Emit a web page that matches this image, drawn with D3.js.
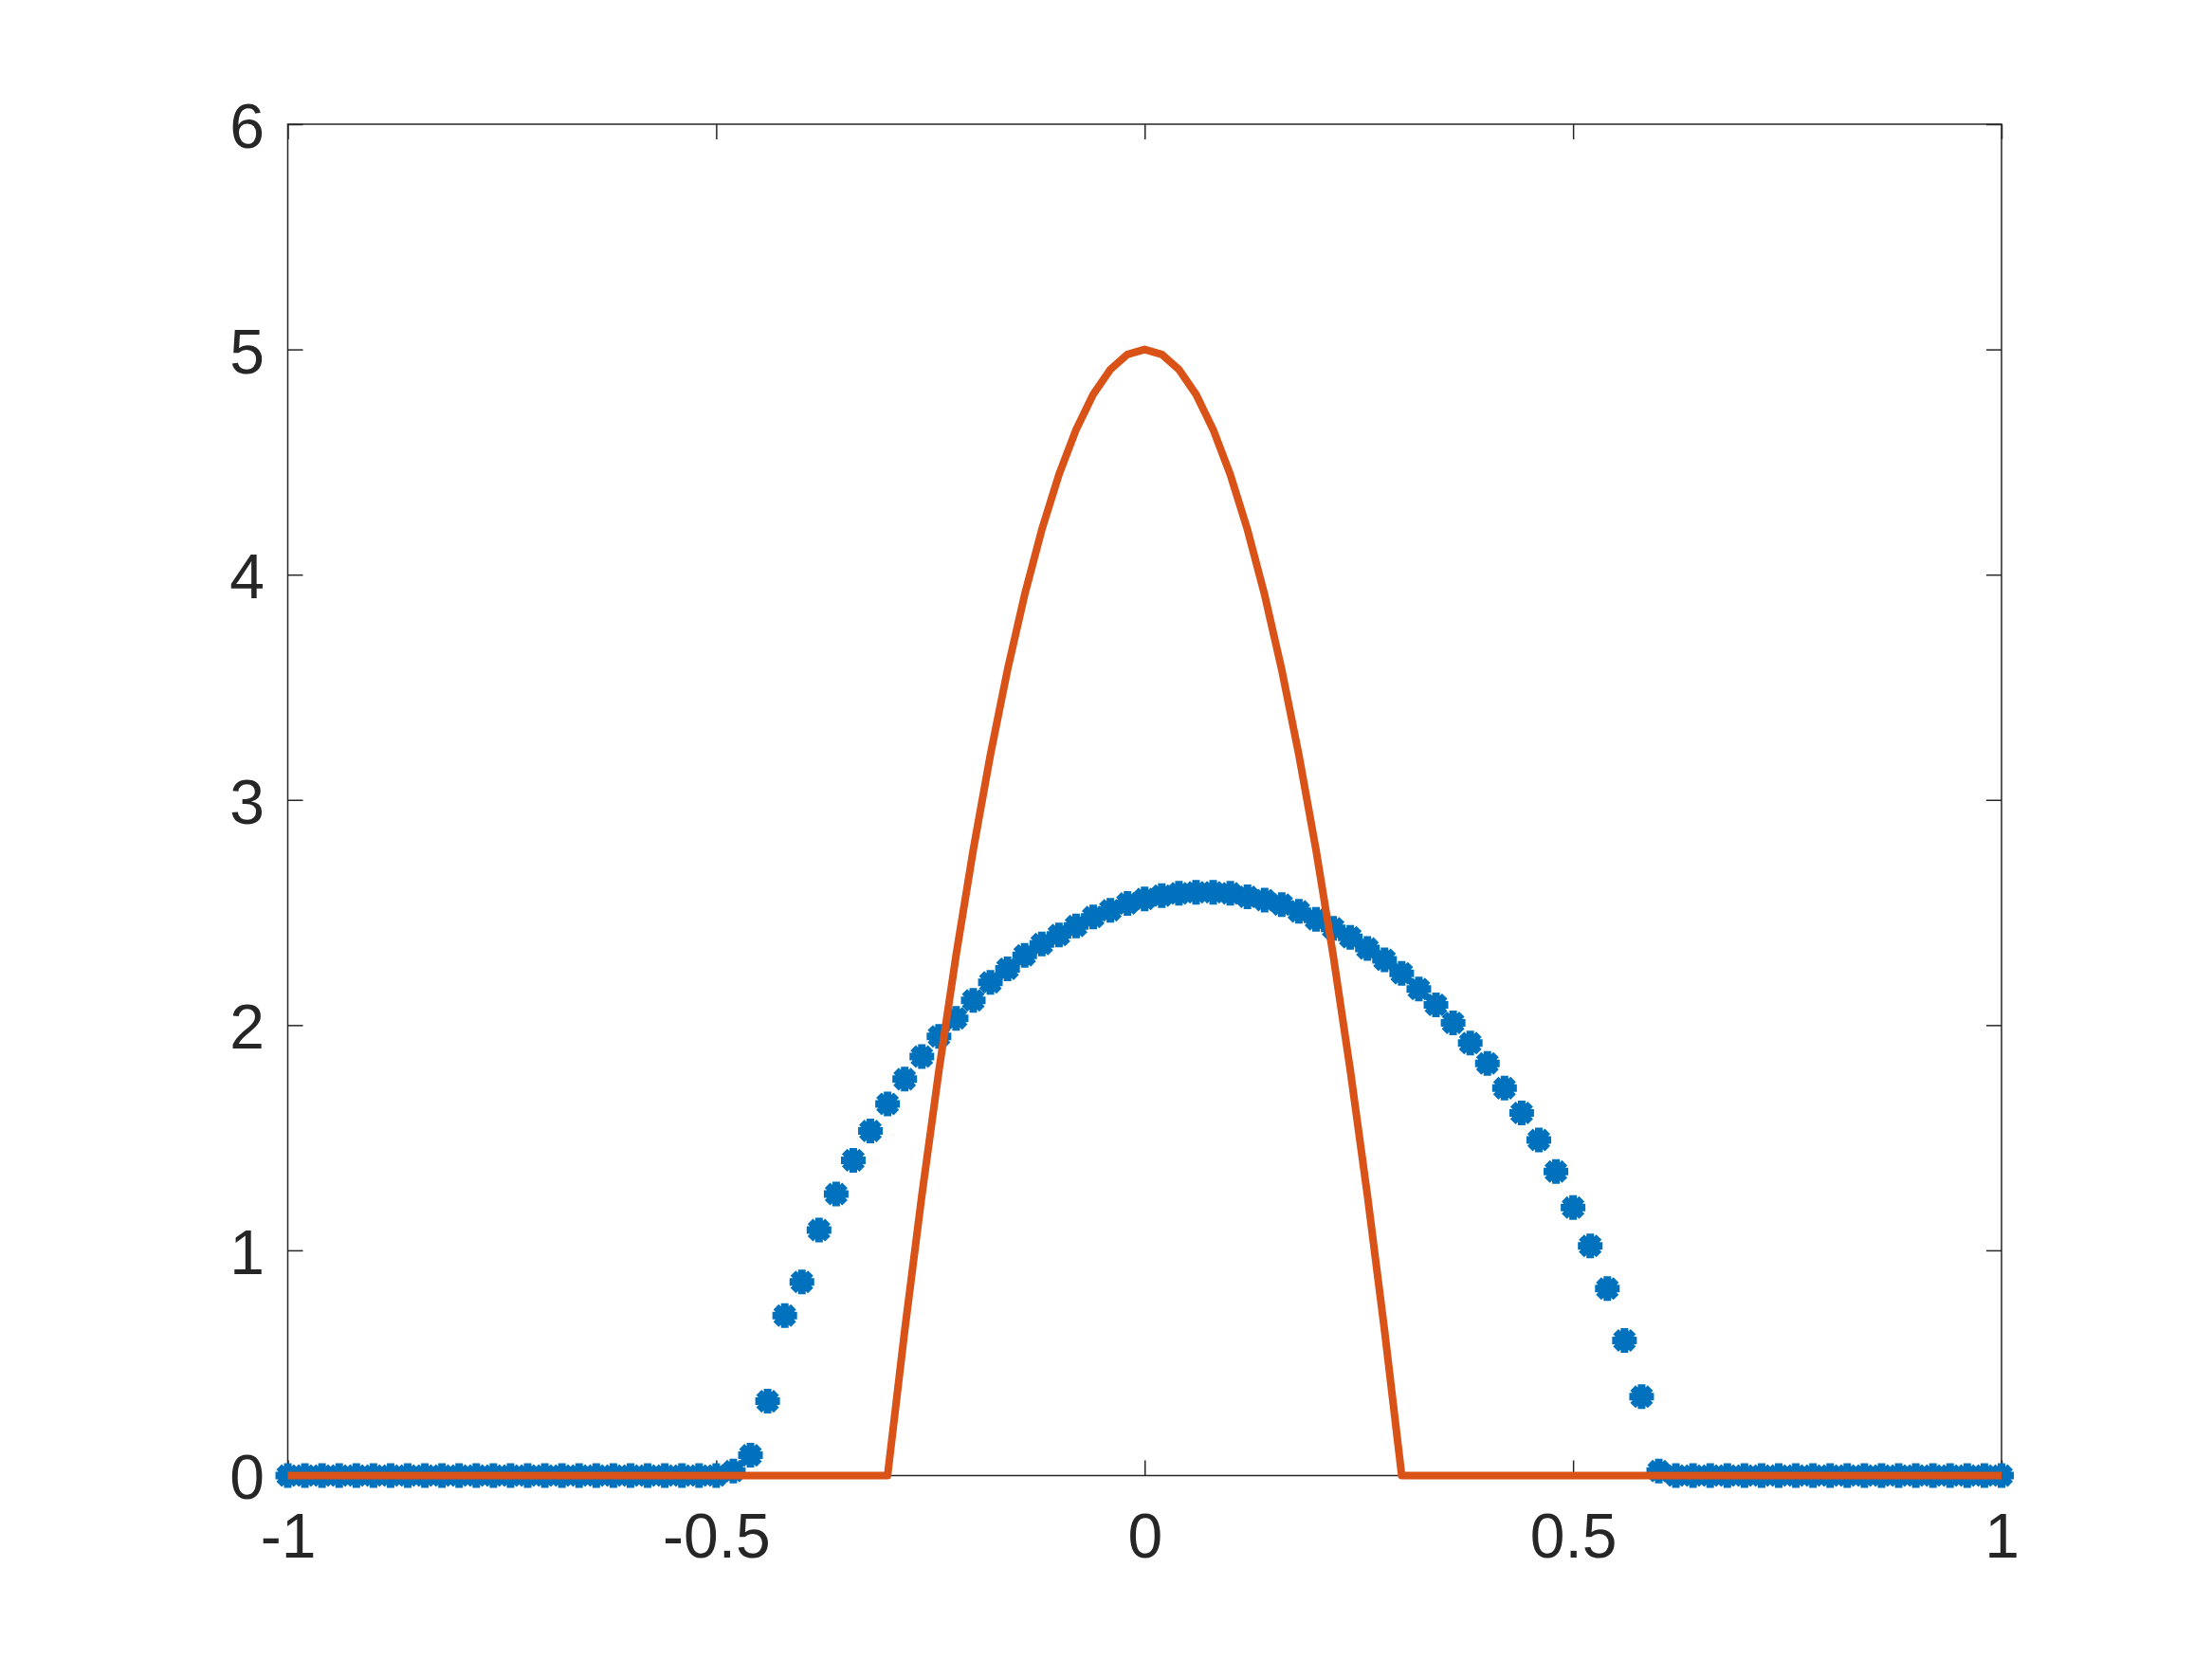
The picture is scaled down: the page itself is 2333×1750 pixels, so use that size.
<!DOCTYPE html>
<html>
<head>
<meta charset="utf-8">
<script src="https://cdn.jsdelivr.net/npm/d3@7"></script>
<style>
  body { margin: 0; background: #ffffff; }
  svg { display: block; }
</style>
</head>
<body>
<div id="my_dataviz"></div>
<script>
// x grid shared by both series (-1 to 1, step 0.02)
var xValues = [-1, -0.98, -0.96, -0.94, -0.92, -0.9, -0.88, -0.86, -0.84, -0.82,
  -0.8, -0.78, -0.76, -0.74, -0.72, -0.7, -0.68, -0.66, -0.64, -0.62,
  -0.6, -0.58, -0.56, -0.54, -0.52, -0.5, -0.48, -0.46, -0.44, -0.42,
  -0.4, -0.38, -0.36, -0.34, -0.32, -0.3, -0.28, -0.26, -0.24, -0.22,
  -0.2, -0.18, -0.16, -0.14, -0.12, -0.1, -0.08, -0.06, -0.04, -0.02,
  0, 0.02, 0.04, 0.06, 0.08, 0.1, 0.12, 0.14, 0.16, 0.18,
  0.2, 0.22, 0.24, 0.26, 0.28, 0.3, 0.32, 0.34, 0.36, 0.38,
  0.4, 0.42, 0.44, 0.46, 0.48, 0.5, 0.52, 0.54, 0.56, 0.58,
  0.6, 0.62, 0.64, 0.66, 0.68, 0.7, 0.72, 0.74, 0.76, 0.78,
  0.8, 0.82, 0.84, 0.86, 0.88, 0.9, 0.92, 0.94, 0.96, 0.98, 1]

// blue asterisk series
var blueValues = [0, 0, 0, 0, 0, 0, 0, 0, 0, 0,
  0, 0, 0, 0, 0, 0, 0, 0, 0, 0,
  0, 0, 0, 0, 0, 0, 0.02, 0.09, 0.33, 0.71,
  0.86, 1.09, 1.25, 1.40, 1.53, 1.65, 1.76, 1.86, 1.95, 2.03,
  2.11, 2.19, 2.25, 2.31, 2.36, 2.40, 2.44, 2.48, 2.51, 2.54,
  2.56, 2.575, 2.585, 2.59, 2.59, 2.585, 2.57, 2.555, 2.535, 2.505,
  2.47, 2.43, 2.39, 2.34, 2.29, 2.23, 2.16, 2.09, 2.01, 1.92,
  1.83, 1.72, 1.61, 1.49, 1.35, 1.19, 1.02, 0.83, 0.60, 0.35,
  0.02, 0, 0, 0, 0, 0, 0, 0, 0, 0,
  0, 0, 0, 0, 0, 0, 0, 0, 0, 0, 0]

// red line series
var redValues = [0, 0, 0, 0, 0, 0, 0, 0, 0, 0,
  0, 0, 0, 0, 0, 0, 0, 0, 0, 0,
  0, 0, 0, 0, 0, 0, 0, 0, 0, 0,
  0, 0, 0, 0, 0, 0, 0.644, 1.244, 1.8, 2.311,
  2.778, 3.2, 3.578, 3.911, 4.2, 4.444, 4.644, 4.8, 4.911, 4.978,
  5, 4.978, 4.911, 4.8, 4.644, 4.444, 4.2, 3.911, 3.578, 3.2,
  2.778, 2.311, 1.8, 1.244, 0.644, 0, 0, 0, 0, 0,
  0, 0, 0, 0, 0, 0, 0, 0, 0, 0,
  0, 0, 0, 0, 0, 0, 0, 0, 0, 0,
  0, 0, 0, 0, 0, 0, 0, 0, 0, 0, 0]

var xTicks = [-1, -0.5, 0, 0.5, 1]
var yTicks = [0, 1, 2, 3, 4, 5, 6]

// set the dimensions and margins of the graph
var width = 2333
var height = 1750
var plotLeft = 303.5, plotRight = 2111, plotTop = 131, plotBottom = 1556.5
var axisColor = "#262626"
var tickLen = 16

var svg = d3.select("#my_dataviz")
  .append("svg")
  .attr("width", width)
  .attr("height", height)
  .style("background", "#ffffff")

var x = d3.scaleLinear().domain([-1, 1]).range([plotLeft, plotRight])
var y = d3.scaleLinear().domain([0, 6]).range([plotBottom, plotTop])

var labelFont = "'Liberation Sans', Arial, Helvetica, sans-serif"

// axes go under the data (matlab layer bottom)
var axes = svg.append("g")

var xAxisG = axes.append("g")
  .attr("transform", "translate(0," + plotBottom + ")")
  .call(d3.axisBottom(x).tickValues(xTicks).tickFormat(function(d) { return String(d) })
    .tickSizeInner(-tickLen).tickSizeOuter(0).tickPadding(39.5))

axes.append("g")
  .attr("transform", "translate(0," + plotTop + ")")
  .call(d3.axisTop(x).tickValues(xTicks).tickFormat("")
    .tickSizeInner(-tickLen).tickSizeOuter(0))

var yAxisG = axes.append("g")
  .attr("transform", "translate(" + plotLeft + ",0)")
  .call(d3.axisLeft(y).tickValues(yTicks).tickFormat(function(d) { return String(d) })
    .tickSizeInner(-tickLen).tickSizeOuter(0).tickPadding(24.5))

axes.append("g")
  .attr("transform", "translate(" + plotRight + ",0)")
  .call(d3.axisRight(y).tickValues(yTicks).tickFormat("")
    .tickSizeInner(-tickLen).tickSizeOuter(0))

axes.selectAll(".domain").remove()
axes.selectAll(".tick line")
  .attr("stroke", axisColor)
  .attr("stroke-width", 1.5)
axes.selectAll(".tick text")
  .attr("fill", axisColor)
  .style("font-family", labelFont)
  .style("font-size", "66px")
// y labels sit centred on the tick
yAxisG.selectAll(".tick text").attr("dy", "0.37em")

// the box
axes.append("rect")
  .attr("x", plotLeft)
  .attr("y", plotTop)
  .attr("width", plotRight - plotLeft)
  .attr("height", plotBottom - plotTop)
  .attr("fill", "none")
  .attr("stroke", axisColor)
  .attr("stroke-width", 1.5)

// blue asterisk markers (thick '*' like matlab)
var asterisk = "M-13,0H13M0,-13V13M-9.2,-9.2L9.2,9.2M-9.2,9.2L9.2,-9.2"

svg.append("g")
  .selectAll("path")
  .data(xValues.map(function(v, i) { return [v, blueValues[i]] }))
  .enter()
  .append("path")
    .attr("d", asterisk)
    .attr("transform", function(d) { return "translate(" + x(d[0]) + "," + y(d[1]) + ")" })
    .attr("fill", "none")
    .attr("stroke", "#0072BD")
    .attr("stroke-width", 8)

// red line on top
var line = d3.line()
  .x(function(d) { return x(d[0]) })
  .y(function(d) { return y(d[1]) })

svg.append("path")
  .datum(xValues.map(function(v, i) { return [v, redValues[i]] }))
  .attr("d", line)
  .attr("fill", "none")
  .attr("stroke", "#D95319")
  .attr("stroke-width", 8)
  .attr("stroke-linejoin", "round")
</script>
</body>
</html>
